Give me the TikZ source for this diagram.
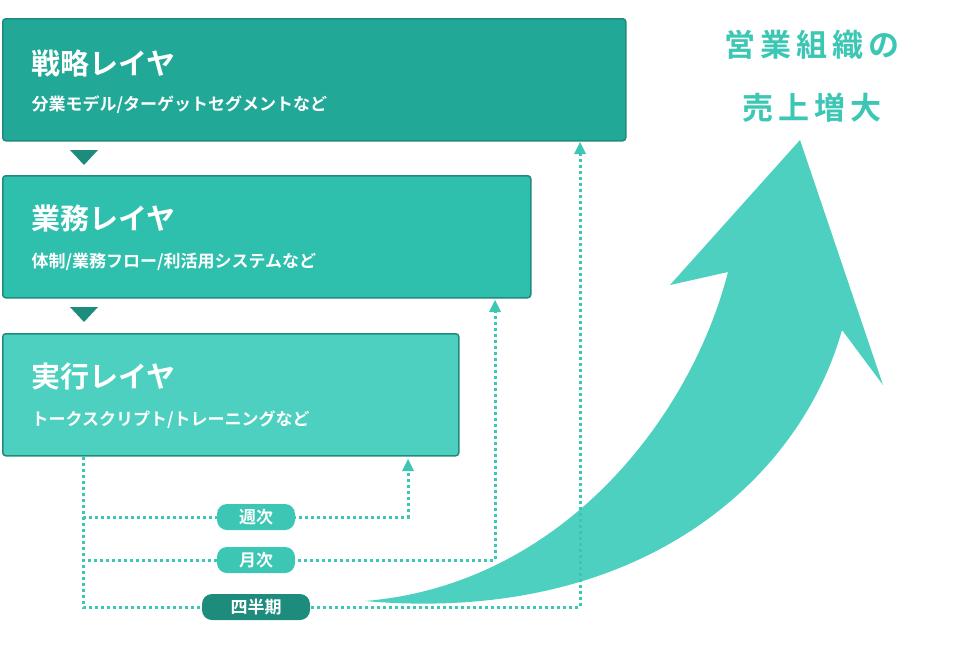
\documentclass[tikz,border=0pt]{standalone}
\usepackage{fontspec}
\setmainfont{Noto Sans CJK JP}[BoldFont={* Bold}]
\usetikzlibrary{positioning,arrows.meta}
\definecolor{tealA}{HTML}{22A896}
\definecolor{tealB}{HTML}{2FBFAD}
\definecolor{tealC}{HTML}{4DD0C0}
\definecolor{tealD}{HTML}{1E8C7C}
\definecolor{tealL}{HTML}{3CC6B4}
\begin{document}
\begin{tikzpicture}[x=1pt,y=-1pt,
  layer/.style={draw=tealD,line width=1.5pt,rounded corners=3pt,anchor=north west,minimum height=122pt},
  ttl/.style={anchor=west,text=white,font=\bfseries\fontsize{29}{29}\selectfont},
  sub/.style={anchor=west,text=white,font=\bfseries\fontsize{17}{17}\selectfont},
  loop/.style={tealL,line width=3pt,dash pattern=on 3pt off 3pt},
  pill/.style={rounded corners=10pt,fill=tealL,text=white,minimum width=78pt,minimum height=26pt,font=\bfseries\fontsize{17}{17}\selectfont},
  tri/.style={fill=tealD}]
\useasboundingbox (0,0) rectangle (956,648);
% layers
\node[layer,fill=tealA,minimum width=623pt] (L1) at (2,18) {};
\node[layer,fill=tealB,minimum width=528pt] (L2) at (2,175) {};
\node[layer,fill=tealC,minimum width=456pt] (L3) at (2,333) {};
\node[ttl] at (28,63) {戦略レイヤ};
\node[sub] at (28,105) {分業モデル/ターゲットセグメントなど};
\node[ttl] at (28,218) {業務レイヤ};
\node[sub] at (28,262) {体制/業務フロー/利活用システムなど};
\node[ttl] at (28,377) {実行レイヤ};
\node[sub] at (28,420) {トークスクリプト/トレーニングなど};
\fill[tri] (70,150) -- (98,150) -- (84,165) -- cycle;
\fill[tri] (70,307) -- (98,307) -- (84,322) -- cycle;
% big arrow
\fill[tealC] (365,601) .. controls (560,585) and (690,420) .. (728,272)
  -- (670,285) -- (800,140) -- (883,385) -- (842,330)
  .. controls (800,480) and (640,625) .. cycle;
% loops
\coordinate (S) at (83,457);
\draw[loop] (S) |- (408,517) -- (408,470);
\draw[loop] (S) |- (495,560) -- (495,310);
\draw[loop] (S) |- (580,607) -- (580,152);
\fill[tealL] (402,471) -- (414,471) -- (408,459) -- cycle;
\fill[tealL] (489,312) -- (501,312) -- (495,300) -- cycle;
\fill[tealL] (574,154) -- (586,154) -- (580,142) -- cycle;
\node[pill] (W) at (256,517) {週次};
\node[pill] (M) at (256,560) {月次};
\node[pill,fill=tealD,minimum width=108pt] (Q) at (256,607) {四半期};
% title
\node[text=tealL,font=\bfseries\fontsize{31}{31}\selectfont] at (812,45) {営\,業\,組\,織\,の};
\node[text=tealL,font=\bfseries\fontsize{31}{31}\selectfont] at (812,108) {売\,上\,増\,大};
\end{tikzpicture}
\end{document}
